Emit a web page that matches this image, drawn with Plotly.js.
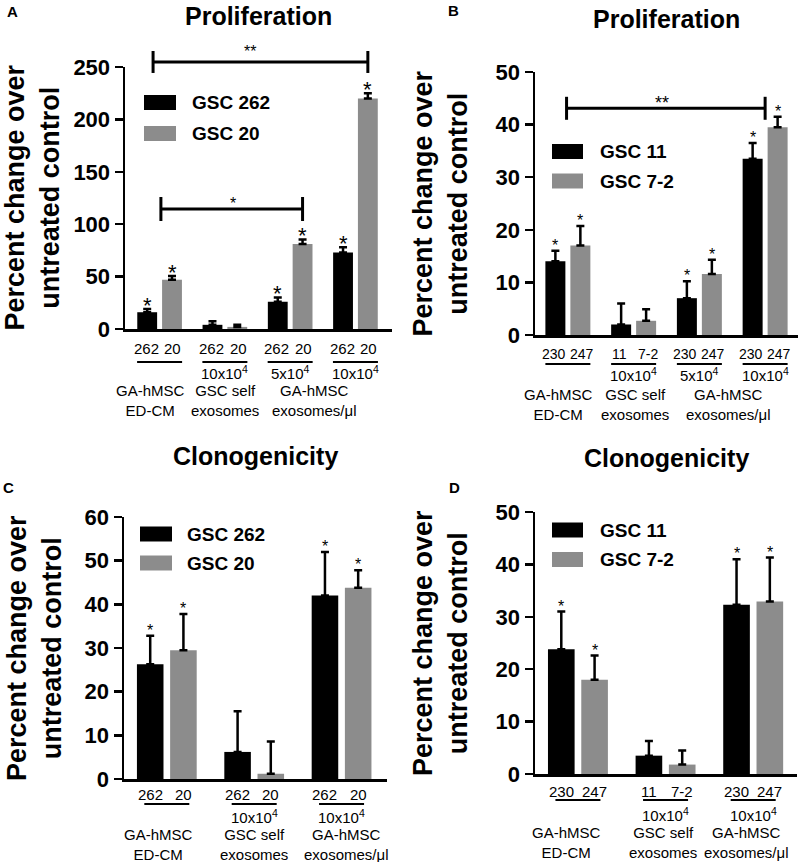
<!DOCTYPE html>
<html>
<head>
<meta charset="utf-8">
<script src="https://cdn.plot.ly/plotly-3.0.1.min.js"></script>
<style>html,body{margin:0;padding:0;background:#fff}#chart{width:800px;height:862px}</style>
</head>
<body>
<div id="chart"></div>
<script>
// ================= DATA =================
const catsAB = ['GA-hMSC ED-CM', 'GSC self exosomes 10x10^4', 'GA-hMSC exosomes 5x10^4', 'GA-hMSC exosomes 10x10^4'];
const catsCD = ['GA-hMSC ED-CM', 'GSC self exosomes 10x10^4', 'GA-hMSC exosomes 10x10^4'];

// Panel A - Proliferation
const seriesNamesA = ['GSC 262', 'GSC 20'];
const valsA262 = [16, 4, 26, 73];
const errsA262 = [3, 3.5, 4, 5];
const valsA20 = [47, 2, 81, 220];
const errsA20 = [3.5, 2, 4.5, 5];
const starsA262 = [true, false, true, true];
const starsA20 = [true, false, true, true];
const subLabelsA = [['262', '20'], ['262', '20'], ['262', '20'], ['262', '20']];
const doseLabelsA = ['', '10x10<sup>4</sup>', '5x10<sup>4</sup>', '10x10<sup>4</sup>'];
const groupNamesA = ['GA-hMSC<br>ED-CM', 'GSC self<br>exosomes', 'GA-hMSC<br>exosomes/μl'];
const yTicksA = [0, 50, 100, 150, 200, 250];

// Panel B - Proliferation
const seriesNamesB = ['GSC 11', 'GSC 7-2'];
const valsB11 = [14, 2, 7, 33.5];
const errsB11 = [2, 4, 3.2, 3];
const valsB72 = [17, 2.7, 11.6, 39.5];
const errsB72 = [3.7, 2.2, 2.7, 2];
const starsB11 = [true, false, true, true];
const starsB72 = [true, false, true, true];
const subLabelsB = [['230', '247'], ['11', '7-2'], ['230', '247'], ['230', '247']];
const doseLabelsB = ['', '10x10<sup>4</sup>', '5x10<sup>4</sup>', '10x10<sup>4</sup>'];
const groupNamesB = ['GA-hMSC<br>ED-CM', 'GSC self<br>exosomes', 'GA-hMSC<br>exosomes/μl'];
const yTicksB = [0, 10, 20, 30, 40, 50];

// Panel C - Clonogenicity
const seriesNamesC = ['GSC 262', 'GSC 20'];
const valsC262 = [26.3, 6.2, 42];
const errsC262 = [6.5, 9.3, 10];
const valsC20 = [29.5, 1.2, 43.8];
const errsC20 = [8.3, 7.4, 4];
const starsC262 = [true, false, true];
const starsC20 = [true, false, true];
const subLabelsC = [['262', '20'], ['262', '20'], ['262', '20']];
const doseLabelsC = ['', '10x10<sup>4</sup>', '10x10<sup>4</sup>'];
const groupNamesC = ['GA-hMSC<br>ED-CM', 'GSC self<br>exosomes', 'GA-hMSC<br>exosomes/μl'];
const yTicksC = [0, 10, 20, 30, 40, 50, 60];

// Panel D - Clonogenicity
const seriesNamesD = ['GSC 11', 'GSC 7-2'];
const valsD11 = [23.8, 3.5, 32.3];
const errsD11 = [7.2, 2.8, 8.7];
const valsD72 = [18, 1.8, 32.9];
const errsD72 = [4.6, 2.7, 8.4];
const starsD11 = [true, false, true];
const starsD72 = [true, false, true];
const subLabelsD = [['230', '247'], ['11', '7-2'], ['230', '247']];
const doseLabelsD = ['', '10x10<sup>4</sup>', '10x10<sup>4</sup>'];
const groupNamesD = ['GA-hMSC<br>ED-CM', 'GSC self<br>exosomes', 'GA-hMSC<br>exosomes/μl'];
const yTicksD = [0, 10, 20, 30, 40, 50];

const titles = ['Proliferation', 'Proliferation', 'Clonogenicity', 'Clonogenicity'];
const letters = ['A', 'B', 'C', 'D'];
const yAxisTitle = 'Percent change over<br>untreated control';

// ================= STYLE / LAYOUT CONFIG =================
const W = 800, H = 862;
const FONT = 'Liberation Sans, Arial, Helvetica, sans-serif';
const COLORS = ['#000000', '#8c8c8c'];
const BARGAP = 0.24, GROUPGAP = 0.2;
const SLOT = (1 - BARGAP) / 2;
const OFFS = [-SLOT / 2, SLOT / 2];

const panels = [
  { cats: catsAB, names: seriesNamesA, vals: [valsA262, valsA20], errs: [errsA262, errsA20], stars: [starsA262, starsA20],
    sub: subLabelsA, dose: doseLabelsA, groups: groupNamesA, yticks: yTicksA, ymax: 250,
    px: [125, 392], py: [67, 329], xr: [-0.53, 3.56], subSize: 15, subSpread: 1.08,
    off: { sub: 19, line: 33, dose: 43, names: 71 }, groupX: [-0.14, 1, 2.38],
    titleY: 16, letterXY: [12, 12], yTitleX: 32.5, starSize: 22,
    legend: { x0: 144, x1: 176, yc: [102.5, 133.5], tx: 190 },
    brackets: [
      { x0: -0.1, x1: 3.19, y: 254.8, tick: 11, label: '**', lx: 1.38, size: 16, shift: 10.5 },
      { x0: 0.02, x1: 2.19, y: 114.5, tick: 12, label: '*', lx: 1.12, size: 16, shift: 5.5 }
    ] },
  { cats: catsAB, names: seriesNamesB, vals: [valsB11, valsB72], errs: [errsB11, errsB72], stars: [starsB11, starsB72],
    sub: subLabelsB, dose: doseLabelsB, groups: groupNamesB, yticks: yTicksB, ymax: 50,
    px: [535, 798], py: [72, 335], xr: [-0.5, 3.5], subSize: 14, subSpread: 1.12,
    off: { sub: 19, line: 29, dose: 39, names: 69 }, groupX: [-0.14, 1.02, 2.45],
    titleY: 19, letterXY: [453, 10], yTitleX: 440, starSize: 16,
    legend: { x0: 552, x1: 583, yc: [151.5, 181], tx: 598 },
    brackets: [
      { x0: -0.02, x1: 3.0, y: 43.1, tick: 11.5, label: '**', lx: 1.43, size: 18, shift: 5 }
    ] },
  { cats: catsCD, names: seriesNamesC, vals: [valsC262, valsC20], errs: [errsC262, errsC20], stars: [starsC262, starsC20],
    sub: subLabelsC, dose: doseLabelsC, groups: groupNamesC, yticks: yTicksC, ymax: 60,
    px: [124, 387], py: [517, 779], xr: [-0.49, 2.52], subSize: 15, subSpread: 1.0,
    off: { sub: 15, line: 25, dose: 37, names: 65.5 }, groupX: [-0.09, 1.0, 2.06],
    titleY: 456, letterXY: [8, 487.5], yTitleX: 34, starSize: 16,
    legend: { x0: 140, x1: 172, yc: [534, 563], tx: 185 },
    brackets: [] },
  { cats: catsCD, names: seriesNamesD, vals: [valsD11, valsD72], errs: [errsD11, errsD72], stars: [starsD11, starsD72],
    sub: subLabelsD, dose: doseLabelsD, groups: groupNamesD, yticks: yTicksD, ymax: 50,
    px: [535, 797], py: [512, 774], xr: [-0.49, 2.5], subSize: 15, subSpread: 1.0,
    off: { sub: 17, line: 26, dose: 40, names: 68.5 }, groupX: [-0.13, 0.97, 1.92],
    titleY: 458, letterXY: [454, 487.5], yTitleX: 440, starSize: 16,
    legend: { x0: 552, x1: 583, yc: [530, 559.5], tx: 598 },
    brackets: [] }
];

// ================= BUILD =================
const px2x = p => p / W;
const px2y = p => 1 - p / H;
const traces = [], shapes = [], annotations = [];
const layout = {
  width: W, height: H, margin: { l: 0, r: 0, t: 0, b: 0 },
  paper_bgcolor: '#ffffff', plot_bgcolor: 'rgba(0,0,0,0)',
  barmode: 'group', bargap: BARGAP, bargroupgap: GROUPGAP,
  showlegend: false, font: { family: FONT, color: '#000' }
};

panels.forEach((P, pi) => {
  const n = pi === 0 ? '' : String(pi + 1);
  const xa = 'x' + n, ya = 'y' + n;
  const d0 = px2y(P.py[1]), d1 = px2y(P.py[0]);
  const yv = v => d0 + (v / P.ymax) * (d1 - d0);
  const pxPerCat = (P.px[1] - P.px[0]) / (P.xr[1] - P.xr[0]);
  const belowAxis = off => px2y(P.py[1] + off);

  layout['xaxis' + n] = {
    domain: [px2x(P.px[0]), px2x(P.px[1])], anchor: ya, type: 'category', range: P.xr,
    showline: true, linecolor: '#000', linewidth: 2.5, ticks: '', showticklabels: false,
    showgrid: false, zeroline: false, fixedrange: true
  };
  layout['yaxis' + n] = {
    domain: [d0, d1], anchor: xa, range: [0, P.ymax], tickmode: 'array', tickvals: P.yticks,
    ticktext: P.yticks.map(String), ticks: 'outside', ticklen: 8, tickwidth: 2.5, tickcolor: '#000',
    showline: true, linecolor: '#000', linewidth: 2.5, showgrid: false, zeroline: false, fixedrange: true,
    tickfont: { family: FONT, size: 22, color: '#000', weight: 'bold' }
  };

  // bars with upward error bars
  P.names.forEach((name, si) => {
    traces.push({
      type: 'bar', name: name, x: P.cats, y: P.vals[si], xaxis: xa, yaxis: ya,
      marker: { color: COLORS[si], line: { width: 0 } },
      error_y: { type: 'data', symmetric: false, array: P.errs[si], arrayminus: P.vals[si].map(() => 0),
                 color: '#000', thickness: 2.5, width: 4 },
      hoverinfo: 'skip', showlegend: false
    });
    // significance stars
    P.vals[si].forEach((v, g) => {
      if (!P.stars[si][g]) return;
      annotations.push({ xref: xa, yref: ya, x: g + OFFS[si], y: v + P.errs[si][g], text: '*',
        showarrow: false, xanchor: 'center', yanchor: 'middle', yshift: 10 - 0.28 * P.starSize,
        font: { family: FONT, size: P.starSize, color: '#000' } });
    });
    // manual legend
    const yc = P.legend.yc[si];
    shapes.push({ type: 'rect', xref: 'paper', yref: 'paper', x0: px2x(P.legend.x0), x1: px2x(P.legend.x1),
      y0: px2y(yc - 7.5), y1: px2y(yc + 7.5), fillcolor: COLORS[si], line: { width: 0 } });
    annotations.push({ xref: 'paper', yref: 'paper', x: px2x(P.legend.tx), y: px2y(yc), text: '<b>' + name + '</b>',
      showarrow: false, xanchor: 'left', yanchor: 'middle', font: { family: FONT, size: 19, color: '#000' } });
  });

  // x labels below axis
  P.cats.forEach((c, g) => {
    P.sub[g].forEach((t, si) => {
      annotations.push({ xref: xa, yref: 'paper', x: g + OFFS[si] * P.subSpread, y: belowAxis(P.off.sub), text: t,
        showarrow: false, xanchor: 'center', yanchor: 'middle', font: { family: FONT, size: P.subSize, color: '#000' } });
    });
    const hw = 22.5 / pxPerCat;
    shapes.push({ type: 'line', xref: xa, yref: 'paper', x0: g - hw, x1: g + hw,
      y0: belowAxis(P.off.line), y1: belowAxis(P.off.line), line: { color: '#000', width: 2 } });
    if (P.dose[g]) {
      annotations.push({ xref: xa, yref: 'paper', x: g, y: belowAxis(P.off.dose), text: P.dose[g],
        showarrow: false, xanchor: 'center', yanchor: 'middle', font: { family: FONT, size: 15, color: '#000' } });
    }
  });
  P.groups.forEach((t, k) => {
    annotations.push({ xref: xa, yref: 'paper', x: P.groupX[k], y: belowAxis(P.off.names), text: t,
      showarrow: false, xanchor: 'center', yanchor: 'middle', font: { family: FONT, size: 15, color: '#000' } });
  });

  // comparison brackets
  P.brackets.forEach(b => {
    const yb = yv(b.y), dt = b.tick / H;
    const ln = { color: '#000', width: 3 };
    shapes.push({ type: 'line', xref: xa, yref: 'paper', x0: b.x0, x1: b.x1, y0: yb, y1: yb, line: ln });
    shapes.push({ type: 'line', xref: xa, yref: 'paper', x0: b.x0, x1: b.x0, y0: yb - dt, y1: yb + dt, line: ln });
    shapes.push({ type: 'line', xref: xa, yref: 'paper', x0: b.x1, x1: b.x1, y0: yb - dt, y1: yb + dt, line: ln });
    annotations.push({ xref: xa, yref: 'paper', x: b.lx, y: yb, text: b.label, showarrow: false,
      xanchor: 'center', yanchor: 'middle', yshift: b.shift, font: { family: FONT, size: b.size, color: '#000' } });
  });

  // panel title, letter, y-axis title
  annotations.push({ xref: 'paper', yref: 'paper', x: px2x((P.px[0] + P.px[1]) / 2), y: px2y(P.titleY),
    text: '<b>' + titles[pi] + '</b>', showarrow: false, xanchor: 'center', yanchor: 'middle',
    font: { family: FONT, size: 25, color: '#000' } });
  annotations.push({ xref: 'paper', yref: 'paper', x: px2x(P.letterXY[0]), y: px2y(P.letterXY[1]),
    text: '<b>' + letters[pi] + '</b>', showarrow: false, xanchor: 'center', yanchor: 'middle',
    font: { family: FONT, size: 15, color: '#000' } });
  annotations.push({ xref: 'paper', yref: 'paper', x: px2x(P.yTitleX), y: px2y((P.py[0] + P.py[1]) / 2),
    text: '<b>' + yAxisTitle + '</b>', textangle: -90, showarrow: false, xanchor: 'center', yanchor: 'middle',
    font: { family: FONT, size: 27, color: '#000' } });
});

layout.shapes = shapes;
layout.annotations = annotations;
Plotly.newPlot('chart', traces, layout, { staticPlot: true, displayModeBar: false });
</script>
</body>
</html>
